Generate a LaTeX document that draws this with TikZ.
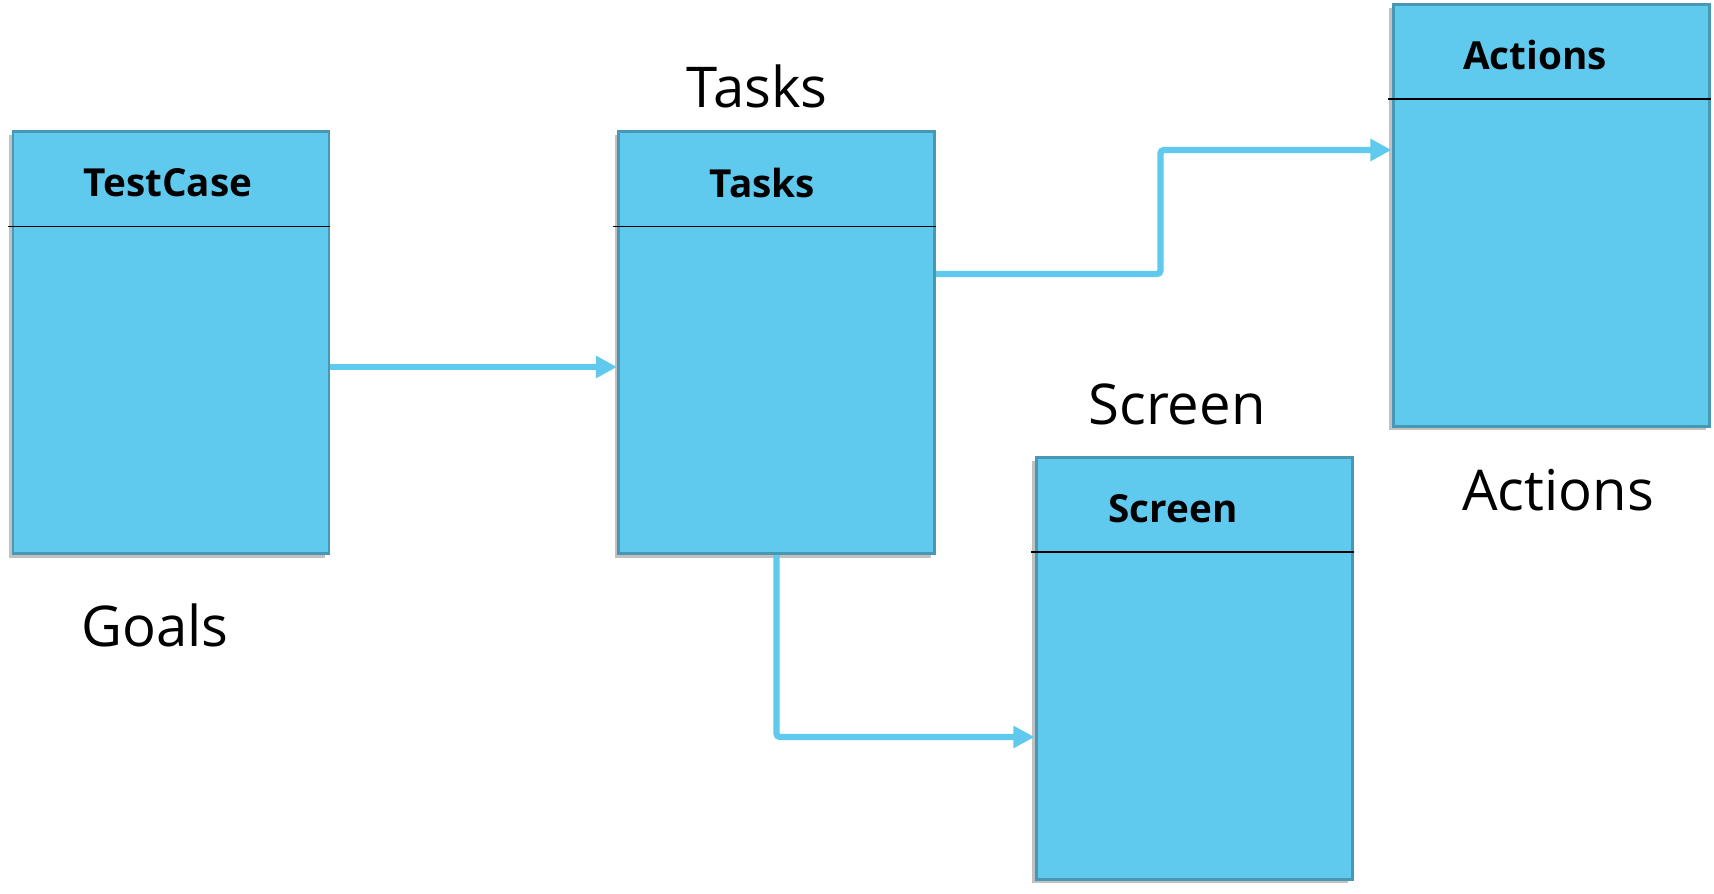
\documentclass[tikz,border=0pt]{standalone}
\usepackage{fontspec}
\setmainfont{Open Sans}
\usetikzlibrary{arrows.meta,shadows}
\definecolor{boxfill}{RGB}{95,201,238}
\definecolor{boxedge}{RGB}{71,151,181}
\tikzset{
  umlbox/.style={draw=boxedge,line width=1.7pt,fill=boxfill,
    minimum width=6.32cm,minimum height=8.44cm,inner sep=0pt,
    drop shadow={shadow xshift=-2pt,shadow yshift=-2pt,opacity=0.35,fill=black!70}},
  head/.style={font=\fontsize{22}{26}\selectfont\bfseries},
  tag/.style={font=\fontsize{32}{38}\selectfont},
  divider/.style={draw=black,line width=0.9pt},
  link/.style={draw=boxfill,line width=3.6pt,rounded corners=2pt,
    -{Triangle[length=12pt,width=12pt]}}
}
\begin{document}
\begin{tikzpicture}
      \useasboundingbox (0,0) rectangle (34.28,17.88);
      % class boxes
      \node[umlbox] (testcase) at (3.42,11.02) {};
      \node[umlbox] (tasks) at (15.53,11.02) {};
      \node[umlbox] (actions) at (31.02,13.57) {};
      \node[umlbox] (screen) at (23.88,4.51) {};
      % header lines
      \foreach \b in {testcase,tasks,actions,screen}
        \draw[divider] ([xshift=-2pt,yshift=-1.92cm]\b.north west) -- ([yshift=-1.92cm]\b.north east);
      % header texts
      \node[head] (testcase-head) at ([xshift=-0.06cm,yshift=-1.05cm]testcase.north) {TestCase};
      \node[head] (tasks-head) at ([xshift=-0.28cm,yshift=-1.05cm]tasks.north) {Tasks};
      \node[head] (actions-head) at ([xshift=-0.32cm,yshift=-1.05cm]actions.north) {Actions};
      \node[head] (screen-head) at ([xshift=-0.42cm,yshift=-1.05cm]screen.north) {Screen};
      % outside labels
      \node[tag] (goals-tag) at (3.10,5.38) {Goals};
      \node[tag] (tasks-tag) at (15.14,16.16) {Tasks};
      \node[tag] (screen-tag) at (23.54,9.80) {Screen};
      \node[tag] (actions-tag) at (31.16,8.08) {Actions};
      % links
      \draw[link] ([yshift=-0.48cm]testcase.east) -- ([yshift=-0.48cm]tasks.west);
      \draw[link] ([yshift=1.38cm]tasks.east) -| ([xshift=-4.62cm,yshift=1.31cm]actions.west)
        -- ([yshift=1.31cm]actions.west);
      \draw[link] (tasks.south) |- ([yshift=-1.37cm]screen.west);
    \end{tikzpicture}
\end{document}
